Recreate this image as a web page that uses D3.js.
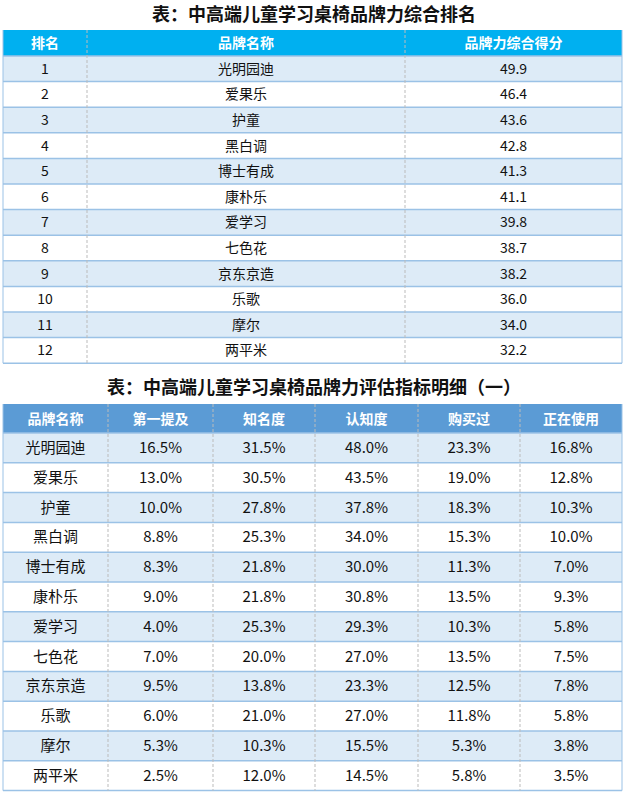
<!DOCTYPE html><html><head><meta charset="utf-8"><script src="https://cdn.jsdelivr.net/npm/d3@7"></script>
<style>body{margin:0;background:#fff}text{font-family:"Noto Sans CJK SC","Microsoft YaHei",sans-serif}</style></head><body><svg id="c" width="629" height="795"></svg>
<script>
const ranks=[1,2,3,4,5,6,7,8,9,10,11,12];
const brands=["光明园迪","爱果乐","护童","黑白调","博士有成","康朴乐","爱学习","七色花","京东京造","乐歌","摩尔","两平米"];
const scores=[49.9,46.4,43.6,42.8,41.3,41.1,39.8,38.7,38.2,36.0,34.0,32.2];
const header1=["排名","品牌名称","品牌力综合得分"];
const header2=["品牌名称","第一提及","知名度","认知度","购买过","正在使用"];
const firstMention=[16.5,13.0,10.0,8.8,8.3,9.0,4.0,7.0,9.5,6.0,5.3,2.5];
const awareness=[31.5,30.5,27.8,25.3,21.8,21.8,25.3,20.0,13.8,21.0,10.3,12.0];
const recognition=[48.0,43.5,37.8,34.0,30.0,30.8,29.3,27.0,23.3,27.0,15.5,14.5];
const bought=[23.3,19.0,18.3,15.3,11.3,13.5,10.3,13.5,12.5,11.8,5.3,5.8];
const using=[16.8,12.8,10.3,10.0,7.0,9.3,5.8,7.5,7.8,5.8,3.8,3.5];
const svg=d3.select("#c");
function table(title,titleY,top,hh,rh,edges,header,rows,hcol,fs){
  svg.append("text").attr("x",314).attr("y",titleY).attr("text-anchor","middle").attr("font-size",18).attr("font-weight","bold").attr("fill","#111").text(title);
  const y=d3.scaleLinear().domain([0,rows.length]).range([top+hh,top+hh+rh*rows.length]);
  svg.append("rect").attr("x",edges[0]).attr("y",top).attr("width",edges[edges.length-1]-edges[0]).attr("height",hh).attr("fill",hcol);
  header.forEach((h,i)=>svg.append("text").attr("x",(edges[i]+edges[i+1])/2).attr("y",top+hh/2+5).attr("text-anchor","middle").attr("fill","#fff").attr("font-weight","bold").attr("font-size",14).text(h));
  rows.forEach((r,k)=>{
    svg.append("rect").attr("x",edges[0]).attr("y",y(k)).attr("width",edges[edges.length-1]-edges[0]).attr("height",rh).attr("fill",k%2==0?"#DDEBF7":"#fff");
    svg.append("line").attr("x1",edges[0]).attr("x2",edges[edges.length-1]).attr("y1",y(k)).attr("y2",y(k)).attr("stroke","#9BC2E6").attr("stroke-width",1.5);
    r.forEach((v,i)=>svg.append("text").attr("x",(edges[i]+edges[i+1])/2).attr("y",y(k)+rh/2+5).attr("text-anchor","middle").attr("fill","#111").attr("font-size",fs).text(v));
  });
  const bot=y(rows.length);
  svg.append("line").attr("x1",edges[0]).attr("x2",edges[edges.length-1]).attr("y1",bot).attr("y2",bot).attr("stroke","#9BC2E6").attr("stroke-width",1.5);
  edges.forEach((e,i)=>{
    const end=(i==0||i==edges.length-1);
    svg.append("line").attr("x1",e).attr("x2",e).attr("y1",top).attr("y2",bot).attr("stroke",end?"#9BC2E6":"#bbb").attr("stroke-dasharray",end?null:"3,2");
  });
}
table("表：中高端儿童学习桌椅品牌力综合排名",21,30,26,25.6,[3,87,405,622],header1,ranks.map((r,i)=>[r,brands[i],scores[i].toFixed(1)]),"#00B0F0",14);
const p=v=>v.toFixed(1)+"%";
table("表：中高端儿童学习桌椅品牌力评估指标明细（一）",394,404,29,29.8,[3,108,213,315,418,520,622],header2,brands.map((b,i)=>[b,p(firstMention[i]),p(awareness[i]),p(recognition[i]),p(bought[i]),p(using[i])]),"#5B9BD5",15);
</script></body></html>
